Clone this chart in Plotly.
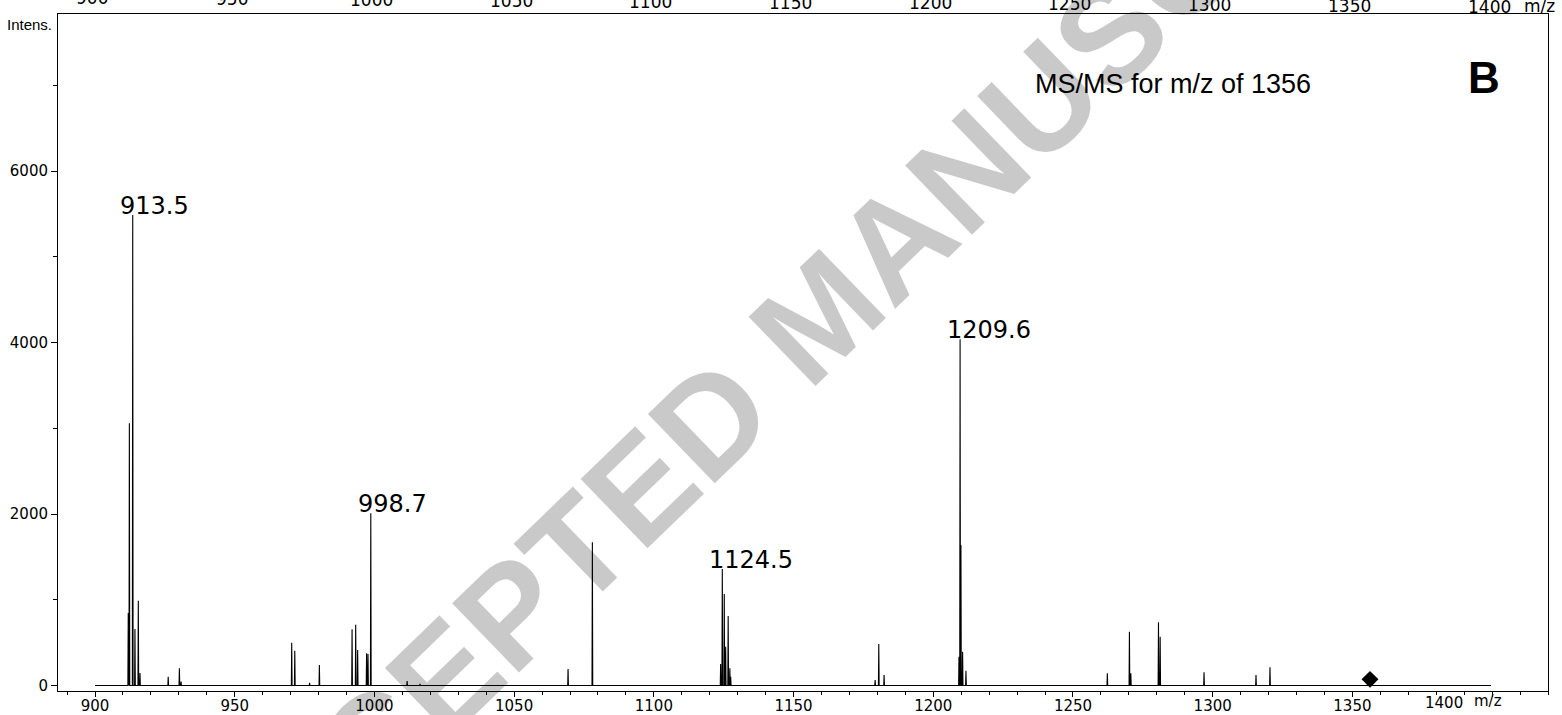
import plotly.graph_objects as go

# ---------------- data ----------------
peak_mz = [911.9, 912.3, 913.5, 914.3, 915.5, 916.1, 926.2, 930.2, 930.8,
           970.4, 971.5, 976.8, 980.3, 992.0, 993.3, 994.0, 997.2, 997.7, 998.7,
           1011.7, 1016.3, 1069.3, 1078.0,
           1123.9, 1124.5, 1125.2, 1125.7, 1126.6, 1127.2, 1127.5,
           1179.2, 1180.5, 1182.4,
           1209.2, 1209.6, 1209.9, 1210.5, 1211.7,
           1262.3, 1270.2, 1270.7, 1280.6, 1281.2, 1296.9, 1315.5, 1320.5]
peak_int = [845, 3058, 5487, 660, 989, 145, 103, 200, 45,
            500, 406, 30, 239, 655, 709, 414, 375, 367, 2008,
            52, 18, 192, 1670,
            251, 1359, 1067, 453, 810, 200, 103,
            64, 484, 122,
            336, 4037, 1638, 394, 173,
            142, 628, 142, 737, 569, 154, 122, 212]

label_mz = [913.5, 998.7, 1124.5, 1209.6]
label_int = [5487, 2008, 1359, 4037]
label_text = ["913.5", "998.7", "1124.5", "1209.6"]

precursor_mz = [1356.3]
precursor_int = [72]

spectrum_start = 900.0
spectrum_end = 1399.6

x_ticks = [900, 950, 1000, 1050, 1100, 1150, 1200, 1250, 1300, 1350, 1400]
x_ticktext = ["900", "950", "1000", "1050", "1100", "1150", "1200", "1250",
              "1300", "1350", ""]
y_ticks = [0, 2000, 4000, 6000]
y_ticktext = ["0", "2000", "4000", "6000"]

top_ticks = [900, 950, 1000, 1050, 1100, 1150, 1200, 1250, 1300, 1350, 1400]

# ---------------- build the stick spectrum ----------------
half_w = 0.13
xs, ys = [spectrum_start], [0]
for m, i in sorted(zip(peak_mz, peak_int)):
    xs += [m - half_w, m, m + half_w]
    ys += [0, i, 0]
xs.append(spectrum_end)
ys.append(0)

fig = go.Figure()
fig.add_trace(go.Scatter(x=xs, y=ys, mode="lines",
                         line=dict(color="black", width=1.1),
                         hoverinfo="skip"))
fig.add_trace(go.Scatter(x=precursor_mz, y=precursor_int, mode="markers",
                         marker=dict(symbol="diamond", size=13, color="black"),
                         hoverinfo="skip"))

NUM_FONT = "DejaVu Sans"
TXT_FONT = "Liberation Sans, Arial"

ann = []
# watermark
ann.append(dict(text="ACCEPTED MANUSCRIPT", xref="paper", yref="paper",
                x=0.5114, y=0.5554, showarrow=False, textangle=-44,
                font=dict(family=TXT_FONT, size=140, weight="bold",
                          color="rgba(0,0,0,0.21)")))
# peak labels
for m, i, t in zip(label_mz, label_int, label_text):
    ann.append(dict(text=t, x=m, y=i, xref="x", yref="y", showarrow=False,
                    xanchor="left", yanchor="bottom", xshift=-15, yshift=-7,
                    font=dict(family=NUM_FONT, size=24, color="black")))
# title text
ann.append(dict(text="MS/MS for m/z of 1356", x=1285.8, y=7010, xref="x", yref="y",
                showarrow=False, xanchor="center", yanchor="middle",
                font=dict(family=TXT_FONT, size=27, color="black")))
ann.append(dict(text="B", x=1397.1, y=7096, xref="x", yref="y",
                showarrow=False, xanchor="center", yanchor="middle",
                font=dict(family=TXT_FONT, size=44, weight="bold", color="black")))
ann.append(dict(text="Intens.", x=0, y=1, xref="paper", yref="paper",
                showarrow=False, xanchor="right", yanchor="middle",
                xshift=-4, yshift=-10,
                font=dict(family=TXT_FONT, size=15, color="black")))
# cut-off axis labels of the panel above
for v in top_ticks:
    px = 95 + (v - 900) * 2.794
    base = 4 + (px - 90) / (1492 - 90) * 9
    ann.append(dict(text=str(v), x=v, y=1, xref="x", yref="paper",
                    showarrow=False, xanchor="center", yanchor="bottom",
                    xshift=-3, yshift=8 - base,
                    font=dict(family=NUM_FONT, size=17, color="black")))
ann.append(dict(text="m/z", x=1400, y=1, xref="x", yref="paper",
                showarrow=False, xanchor="center", yanchor="bottom",
                xshift=47, yshift=8 - 12,
                font=dict(family=NUM_FONT, size=17, color="black")))
# bottom "1400 m/z"
ann.append(dict(text="1400", x=1400, y=0, xref="x", yref="paper",
                showarrow=False, xanchor="center", yanchor="top",
                xshift=-48, yshift=-1,
                font=dict(family=NUM_FONT, size=15, color="black")))
ann.append(dict(text="m/z", x=1400, y=0, xref="x", yref="paper",
                showarrow=False, xanchor="center", yanchor="top",
                xshift=-4, yshift=1,
                font=dict(family=NUM_FONT, size=15, color="black")))

fig.update_layout(
    width=1562, height=715,
    margin=dict(l=58, r=14, t=14, b=24, autoexpand=False),
    paper_bgcolor="white", plot_bgcolor="white",
    showlegend=False,
    annotations=ann,
    xaxis=dict(range=[886.76, 1420.0], automargin=False, showline=True,
               linecolor="black", linewidth=1, mirror=True, ticks="outside",
               ticklen=5, tickcolor="black", tickmode="array", tickvals=x_ticks,
               ticktext=x_ticktext, showgrid=False, zeroline=False,
               ticklabelstandoff=-4,
               tickfont=dict(family=NUM_FONT, size=15, color="black"),
               minor=dict(tickmode="linear", tick0=900, dtick=10,
                          ticks="outside", ticklen=3, tickcolor="black")),
    yaxis=dict(range=[-64, 7831], automargin=False, showline=True,
               linecolor="black", linewidth=1, mirror=True, ticks="outside",
               ticklen=6, tickcolor="black", tickmode="array", tickvals=y_ticks,
               ticktext=y_ticktext, showgrid=False, zeroline=False,
               tickfont=dict(family=NUM_FONT, size=15, color="black"),
               minor=dict(tickmode="linear", tick0=0, dtick=1000,
                          ticks="outside", ticklen=4, tickcolor="black")),
)

fig.write_html("out.html")
